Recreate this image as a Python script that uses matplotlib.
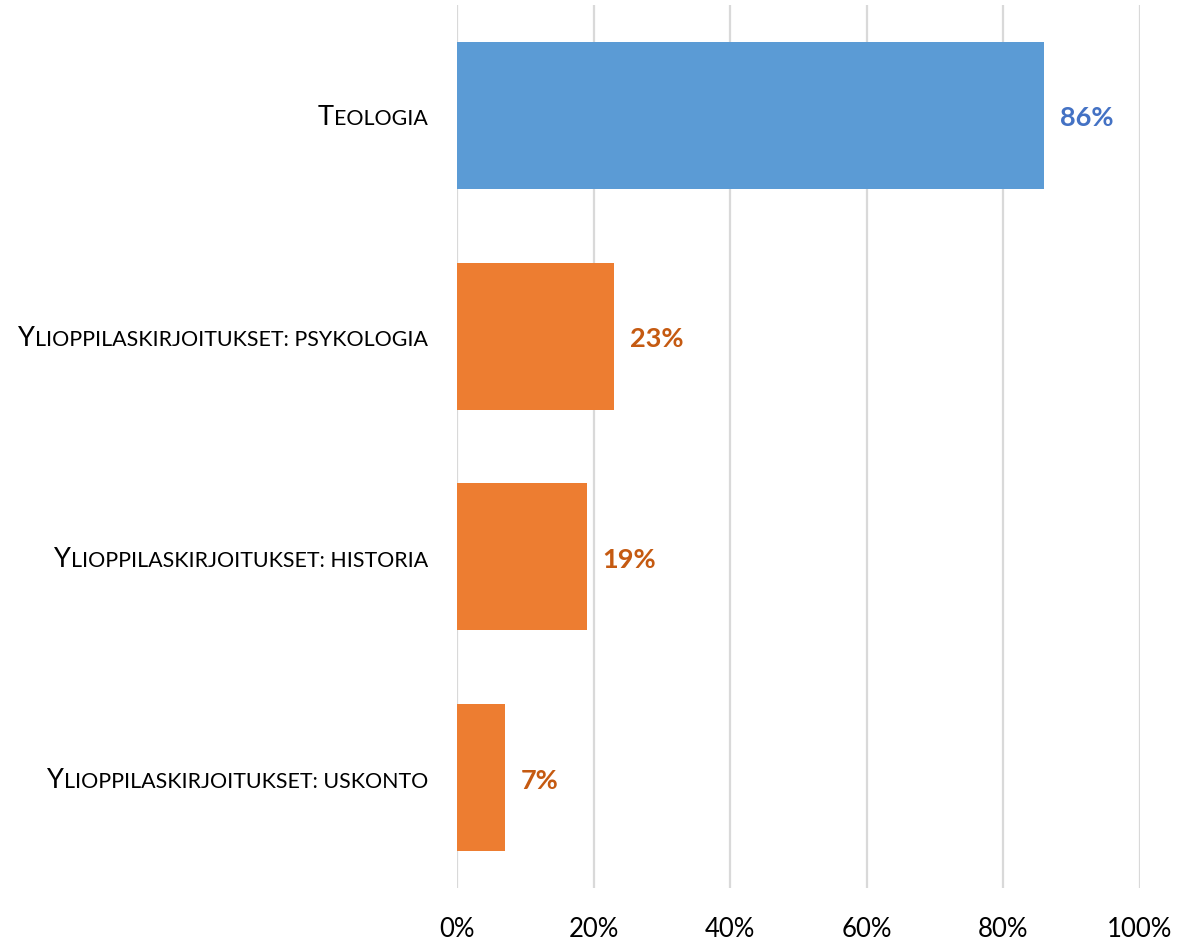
# Vaakapylväskaavio: osuudet prosentteina

import matplotlib
matplotlib.use('Agg')
import matplotlib.pyplot as plt
from matplotlib.transforms import offset_copy

categories = ['Teologia',
              'Ylioppilaskirjoitukset: psykologia',
              'Ylioppilaskirjoitukset: historia',
              'Ylioppilaskirjoitukset: uskonto']
values = [86, 23, 19, 7]
bar_colors = ['#5B9BD5', '#ED7D31', '#ED7D31', '#ED7D31']
label_colors = ['#4472C4', '#C55A11', '#C55A11', '#C55A11']
xticks = [0, 20, 40, 60, 80, 100]

plt.rcParams['font.family'] = ['Lato', 'DejaVu Sans']

fig = plt.figure(figsize=(12.02, 9.46), dpi=100)
ax = fig.add_axes([457 / 1202, 1 - 888 / 946, 683 / 1202, 883 / 946])

pos = list(range(len(categories)))
ax.barh(pos, values, height=0.665, color=bar_colors, zorder=2)

ax.set_xlim(0, 100)
ax.set_ylim(len(categories) - 0.5, -0.5)
ax.set_xticks(xticks)
ax.set_xticklabels([f'{t}%' for t in xticks], fontsize=18.5)
ax.tick_params(axis='x', length=0, pad=21)
ax.set_yticks([])
ax.grid(axis='x', color='#D9D9D9', linewidth=1.6, zorder=0)
ax.set_axisbelow(True)
for s in ax.spines.values():
    s.set_visible(False)

# arvot pylväiden perään
for i, v in enumerate(values):
    ax.annotate(f'{v}%', xy=(v, i), xytext=(16, -3), textcoords='offset pixels',
                ha='left', va='center', fontsize=19.5, fontweight='bold',
                color=label_colors[i])

# kapiteelit (small caps) käsin: isot kirjaimet isolla, muut pienemmällä
renderer = fig.canvas.get_renderer()
big, small = 19.5, 15.4
for i, label in enumerate(categories):
    runs = []
    for ch in label:
        size = big if ch.isupper() else small
        if runs and runs[-1][1] == size:
            runs[-1][0] += ch.upper()
        else:
            runs.append([ch.upper(), size])
    off = -29
    for txt, size in reversed(runs):
        tr = offset_copy(ax.get_yaxis_transform(), fig=fig, x=off, y=-10, units='dots')
        t = ax.text(0, i, txt, fontsize=size, ha='right', va='baseline',
                    color='black', transform=tr)
        off -= t.get_window_extent(renderer).width

fig.savefig('out.png', dpi=100)
